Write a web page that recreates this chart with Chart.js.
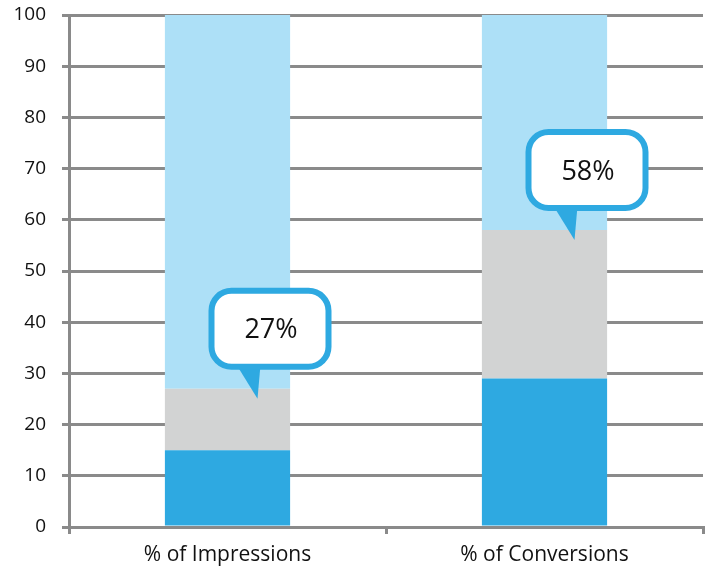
<!DOCTYPE html>
<html>
<head>
<meta charset="utf-8">
<script src="https://cdn.jsdelivr.net/npm/chart.js@4"></script>
<style>
  html, body { margin: 0; padding: 0; background: #fff; }
  #wrap { width: 710px; height: 571px; }
</style>
</head>
<body>
<div id="wrap"><canvas id="chart" width="710" height="571"></canvas></div>
<script>
// data
const categories = ['% of Impressions', '% of Conversions'];
const baseShare = [15, 29];
const midShare = [12, 29];
const restShare = [73, 42];
const calloutValues = [27, 58];
const calloutLabels = ['27%', '58%'];

const gridColor = '#8a8a8a';
const fontFamily = "'Open Sans', sans-serif";

// speech bubble callouts above the grey segment
const calloutPlugin = {
  id: 'callouts',
  afterDatasetsDraw(chart) {
    const ctx = chart.ctx;
    const xs = chart.scales.x, ys = chart.scales.y;
    calloutValues.forEach(function(v, i) {
      const tipX = xs.getPixelForValue(i) + 30;
      const tipY = ys.getPixelForValue(v) + 10;
      const w = 117, h = 76, r = 20;
      const left = tipX - 46, top = tipY - 108;
      const right = left + w, bottom = top + h;

      ctx.save();
      // tail
      ctx.beginPath();
      ctx.moveTo(tipX - 21, bottom - 2);
      ctx.lineTo(tipX + 3, bottom - 2);
      ctx.lineTo(tipX, tipY);
      ctx.closePath();
      ctx.fillStyle = '#2ea9e1';
      ctx.fill();
      // box
      ctx.beginPath();
      ctx.moveTo(left + r, top);
      ctx.lineTo(right - r, top);
      ctx.arcTo(right, top, right, top + r, r);
      ctx.lineTo(right, bottom - r);
      ctx.arcTo(right, bottom, right - r, bottom, r);
      ctx.lineTo(left + r, bottom);
      ctx.arcTo(left, bottom, left, bottom - r, r);
      ctx.lineTo(left, top + r);
      ctx.arcTo(left, top, left + r, top, r);
      ctx.closePath();
      ctx.fillStyle = '#ffffff';
      ctx.fill();
      ctx.lineWidth = 6;
      ctx.strokeStyle = '#2ea9e1';
      ctx.stroke();
      // text
      ctx.fillStyle = '#111';
      ctx.font = '27px ' + fontFamily;
      ctx.textAlign = 'center';
      ctx.textBaseline = 'middle';
      ctx.fillText(calloutLabels[i], (left + right) / 2 + 1, (top + bottom) / 2 + 2);
      ctx.restore();
    });
  }
};

new Chart(document.getElementById('chart'), {
  type: 'bar',
  data: {
    labels: categories,
    datasets: [
      { data: baseShare, backgroundColor: '#2ea9e1' },
      { data: midShare, backgroundColor: '#d2d3d3' },
      { data: restShare, backgroundColor: '#ade0f7' }
    ]
  },
  options: {
    responsive: false,
    animation: false,
    layout: { padding: { left: 0, right: 7, top: 15, bottom: 0 } },
    plugins: { legend: { display: false }, tooltip: { enabled: false } },
    datasets: { bar: { barPercentage: 0.79, categoryPercentage: 0.5, borderWidth: 0 } },
    scales: {
      x: {
        stacked: true,
        grid: { display: true, drawOnChartArea: false, drawTicks: true, tickLength: 7, color: gridColor, lineWidth: 3 },
        border: { display: true, color: gridColor, width: 3 },
        ticks: { color: '#111', padding: 8, font: { family: fontFamily, size: 21 } },
        afterFit: function(scale) { scale.height = 44; scale.paddingLeft = 0; scale.paddingRight = 0; }
      },
      y: {
        stacked: true,
        min: 0,
        max: 100,
        grid: { color: gridColor, lineWidth: 3, tickLength: 7 },
        border: { display: true, color: gridColor, width: 3 },
        ticks: { stepSize: 10, color: '#111', padding: 16, font: { family: fontFamily, size: 19 } },
        afterFit: function(scale) { scale.width = 69; scale.paddingTop = 0; scale.paddingBottom = 0; }
      }
    }
  },
  plugins: [calloutPlugin]
});
</script>
</body>
</html>
